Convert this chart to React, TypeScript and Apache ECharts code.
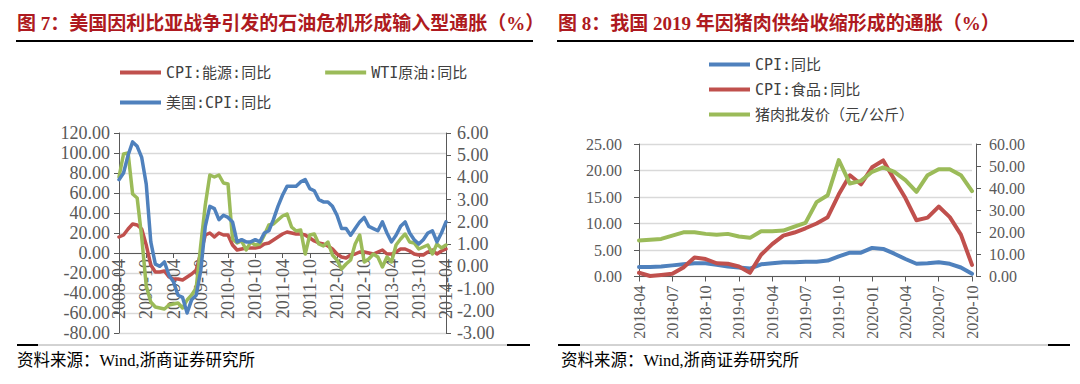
import React, { useEffect, useRef } from "react";
import * as echarts from "echarts";

// ---------- categories ----------
function monthLabels(startYear: number, startMonth: number, count: number): string[] {
  const out: string[] = [];
  let y = startYear;
  let m = startMonth;
  for (let i = 0; i < count; i++) {
    out.push(`${y}-${m < 10 ? "0" + m : m}`);
    m += 1;
    if (m > 12) { m = 1; y += 1; }
  }
  return out;
}
const leftMonths = monthLabels(2008, 4, 73); // 2008-04 .. 2014-04
const rightMonths = monthLabels(2018, 4, 31); // 2018-04 .. 2020-10

// ---------- left chart series ----------
const usEnergyCPI = [
  16, 18, 24, 29, 28, 24, 8, -12, -19, -19, -18, -24, -26, -26, -27, -24, -21, -17, 0, 18, 20, 16, 20, 18, 18,
  8, 3, 4, 5, 5, 5, 6, 9, 10, 13, 16, 19, 21, 20, 19, 19, 18, 15, 12, 10, 9, 7, 4,
  -1, -4, -5, -2, -1, 1, 1, 0, -1, 1, 3, -1, -1, 1, 4, 4, 2, -1, -2, -2, 1, 3, -1, 2, 4,
];
const wtiOil = [
  76, 99, 100, 59, 55, 16, -33, -49, -54, -55, -56, -52, -51, -50, -55, -47, -42, -35, 8, 48, 78, 76, 78, 70,
  69, 14, 10, 12, 3, 11, 8, 9, 18, 28, 29, 33, 37, 39, 26, 22, 23, -1, 18, 19, 9, 7, 11, -2,
  -7, -16, -11, -7, 9, 18, -9, -6, -1, -4, -14, -4, -9, 8, 14, 19, 11, 10, 4, 6, 8, -1, 9, 5, 8,
];
const usCPI = [
  3.9, 4.2, 5.0, 5.6, 5.4, 4.9, 3.7, 1.1, 0.1,
  0.0, 0.2, -0.4, -0.7, -1.3, -1.4, -2.1, -1.5, -1.3, -0.2, 1.8, 2.7,
  2.6, 2.1, 2.3, 2.2, 2.0, 1.1, 1.2, 1.1, 1.1, 1.2, 1.1, 1.5,
  1.6, 2.1, 2.7, 3.2, 3.6, 3.6, 3.6, 3.8, 3.9, 3.5, 3.4, 3.0,
  2.9, 2.9, 2.7, 2.3, 1.7, 1.7, 1.4, 1.7, 2.0, 2.2, 1.8, 1.7,
  1.6, 2.0, 1.5, 1.1, 1.4, 1.8, 2.0, 1.5, 1.2, 1.0, 1.2, 1.5,
  1.6, 1.1, 1.5, 2.0,
];

// ---------- right chart series ----------
const cnCPI = [
  1.8, 1.8, 1.9, 2.1, 2.3, 2.5, 2.5, 2.2, 1.9, 1.7, 1.5, 2.3, 2.5, 2.7, 2.7, 2.8, 2.8, 3.0, 3.8, 4.5, 4.5,
  5.4, 5.2, 4.3, 3.3, 2.4, 2.5, 2.7, 2.4, 1.7, 0.5,
];
const cnFoodCPI = [
  0.7, 0.1, 0.3, 0.5, 1.7, 3.6, 3.3, 2.5, 2.4, 1.9, 0.7, 4.1, 6.1, 7.7, 8.3, 9.1, 10.0, 11.2, 15.5, 19.1, 17.4,
  20.6, 21.9, 18.3, 14.8, 10.6, 11.1, 13.2, 11.2, 7.9, 2.2,
];
const porkPrice = [
  16.3, 16.6, 17.0, 18.5, 20.0, 20.0, 19.3, 18.9, 19.3, 18.1, 17.5, 20.5, 20.5, 20.8, 22.6, 24.3, 33.7, 36.8, 52.7, 42.1, 43.3,
  47.4, 49.4, 47.4, 43.6, 38.3, 45.9, 48.6, 48.6, 45.9, 38.7,
];

// ---------- texts ----------
const leftTitle = "图 7：美国因利比亚战争引发的石油危机形成输入型通胀（%）";
const rightTitle = "图 8：我国 2019 年因猪肉供给收缩形成的通胀（%）";
const sourceText = "资料来源：Wind,浙商证券研究所";
const leftNames = ["CPI:能源:同比", "WTI原油:同比", "美国:CPI:同比"];
const rightNames = ["CPI:同比", "CPI:食品:同比", "猪肉批发价（元/公斤）"];

// ---------- styles ----------
const RED = "#C0504D";
const GREEN = "#9BBB59";
const BLUE = "#4F81BD";
const TITLE_RED = "#AE1A20";
const AXIS = "#595959";
const GRID = "#D9D9D9";
const SERIF = "'Liberation Serif', 'Times New Roman', serif";
const MONO = "'DejaVu Sans Mono', 'Noto Sans CJK SC', monospace";
const TITLE_FONT = "'Liberation Serif', 'Noto Sans CJK SC', sans-serif";

const fmt2 = (v: number) => v.toFixed(2);

function valueAxis(gridIndex: number, position: string, min: number, max: number, interval: number, fontSize: number, margin: number, split: boolean, offset = 0) {
  return {
    type: "value",
    gridIndex,
    position,
    min,
    max,
    interval,
    offset,
    axisLine: { show: true, onZero: false, lineStyle: { color: AXIS, width: 1 } },
    axisTick: { show: true, length: 5, lineStyle: { color: AXIS } },
    axisLabel: { formatter: fmt2, color: AXIS, fontFamily: SERIF, fontSize, margin },
    splitLine: { show: split, lineStyle: { color: GRID, width: 1.3 } },
  };
}

// offsetUp: how far the category axis sits above the grid bottom (left chart crosses at value 0)
function catAxis(gridIndex: number, data: string[], every: number, fontSize: number, margin: number, offsetUp: number) {
  return {
    type: "category",
    gridIndex,
    data,
    position: "bottom",
    offset: -offsetUp,
    boundaryGap: false,
    axisLine: { show: true, onZero: false, lineStyle: { color: AXIS, width: 1 } },
    axisTick: { show: true, interval: every - 1, length: 5, lineStyle: { color: AXIS } },
    axisLabel: { interval: every - 1, rotate: 90, color: AXIS, fontFamily: SERIF, fontSize, margin },
    splitLine: { show: false },
  };
}

function lineSeries(name: string, data: number[], color: string, xAxisIndex: number, yAxisIndex: number, width: number) {
  return {
    type: "line",
    name,
    data,
    xAxisIndex,
    yAxisIndex,
    showSymbol: false,
    symbol: "none",
    lineStyle: { color, width, cap: "round", join: "round" },
    itemStyle: { color },
  };
}

function hline(x1: number, x2: number, y: number, stroke: string, lineWidth: number) {
  return { type: "line", shape: { x1, y1: y, x2, y2: y }, style: { stroke, lineWidth }, silent: true };
}

// grid geometry
const G1 = { left: 119, top: 133, width: 327, height: 200 };
const G2 = { left: 639, top: 144, width: 333, height: 132.5 };
const LEFT_MIN = -80;
const LEFT_MAX = 120;

function buildOption() {
  const legendText = { fontFamily: MONO, fontSize: 15, color: "#404040", lineHeight: 15 };
  const legendBase = { icon: "rect", itemWidth: 41, itemHeight: 4, padding: 0, selectedMode: false, textStyle: legendText };
  // distance of value 0 above the grid bottom in the left chart
  const zeroUp = (G1.height * (0 - LEFT_MIN)) / (LEFT_MAX - LEFT_MIN);
  const titleStyle = { color: TITLE_RED, fontFamily: TITLE_FONT, fontSize: 19, fontWeight: "bold" };
  const srcStyle = { color: "#000", fontFamily: TITLE_FONT, fontSize: 16.5, fontWeight: "normal" };
  return {
    animation: false,
    backgroundColor: "#ffffff",
    title: [
      { text: leftTitle, left: 17, top: 14, padding: 0, textStyle: titleStyle },
      { text: rightTitle, left: 558, top: 14, padding: 0, textStyle: titleStyle },
      { text: sourceText, left: 17, top: 352, padding: 0, textStyle: srcStyle },
      { text: sourceText, left: 561, top: 352, padding: 0, textStyle: srcStyle },
    ],
    legend: [
      { ...legendBase, data: [leftNames[0], leftNames[1]], left: 120, top: 65, itemGap: 54 },
      { ...legendBase, data: [leftNames[2]], left: 120, top: 95 },
      { ...legendBase, data: rightNames, orient: "vertical", left: 709, top: 57, itemGap: 10 },
    ],
    grid: [
      { ...G1, containLabel: false, outerBoundsMode: "none" },
      { ...G2, containLabel: false, outerBoundsMode: "none" },
    ],
    xAxis: [catAxis(0, leftMonths, 6, 18, 6, zeroUp), catAxis(1, rightMonths, 3, 16, 9, 0)],
    yAxis: [
      valueAxis(0, "left", LEFT_MIN, LEFT_MAX, 20, 18, 9, true),
      valueAxis(0, "right", -3, 6, 1, 18, 11, false),
      valueAxis(1, "left", 0, 25, 5, 16, 17, true),
      valueAxis(1, "right", 0, 60, 10, 16, 13, false, 4),
    ],
    series: [
      lineSeries(leftNames[0], usEnergyCPI, RED, 0, 0, 3.5),
      lineSeries(leftNames[1], wtiOil, GREEN, 0, 0, 3.5),
      lineSeries(leftNames[2], usCPI, BLUE, 0, 1, 3.5),
      lineSeries(rightNames[0], cnCPI, BLUE, 1, 2, 4),
      lineSeries(rightNames[1], cnFoodCPI, RED, 1, 2, 4),
      lineSeries(rightNames[2], porkPrice, GREEN, 1, 3, 4),
    ],
    graphic: [
      hline(16, 533, 41, "#000", 2),
      hline(557, 1074, 41, "#000", 2),
      hline(17, 530, 345, "#A6A6A6", 1),
      hline(17, 38, 345, "#000", 2),
      hline(507, 530, 345, "#000", 2),
      hline(558, 1070, 345, "#A6A6A6", 1),
      hline(558, 580, 345, "#000", 2),
      hline(1048, 1070, 345, "#000", 2),
    ],
  };
}

export default function App() {
  const ref = useRef<HTMLDivElement>(null);
  useEffect(() => {
    document.body.style.margin = "0";
    const chart = echarts.init(ref.current as HTMLDivElement, null, { renderer: "svg" });
    chart.setOption(buildOption() as any);
    return () => chart.dispose();
  }, []);
  return <div ref={ref} style={{ width: 1080, height: 384 }} />;
}
